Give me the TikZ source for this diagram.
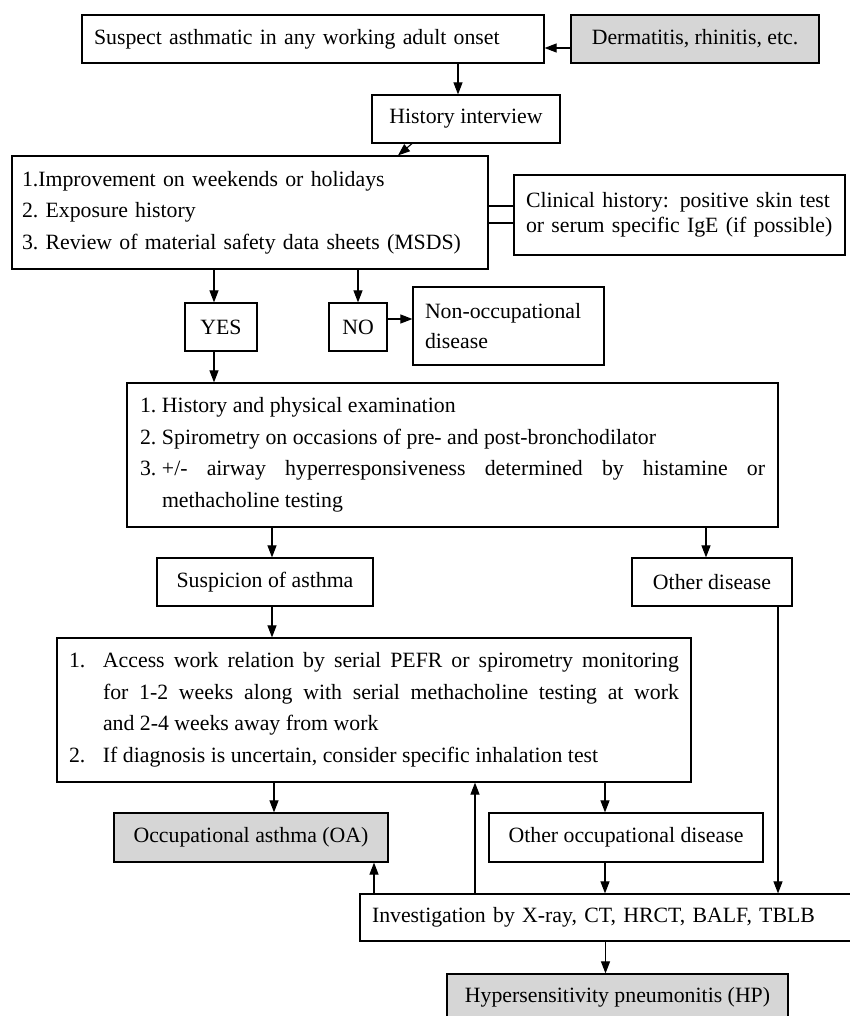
\documentclass[tikz,border=0pt]{standalone}
\usepackage{fontspec}
\setmainfont{Liberation Serif}
\usepackage{tikz}
\usetikzlibrary{arrows.meta}

\newcommand{\chartfont}{\fontsize{21.8}{31.5}\selectfont\frenchspacing\hyphenpenalty=10000}
\tikzset{
  box/.style={draw, line width=1.2pt, inner xsep=12pt, inner ysep=0pt, align=left, font=\chartfont},
  greybox/.style={box, fill=gray!32},
}

\begin{document}
\begin{tikzpicture}[x=1pt, y=-1pt, >={Triangle[length=12pt,width=9pt]}, line width=1.1pt]
    \clip (0,0) rectangle (850,1016);

    % Start and history
    \node[box, text width=438pt, minimum height=48pt] (suspect) at (313,39) {Suspect asthmatic in any working adult onset};
    \node[greybox, minimum width=248pt, minimum height=48pt, align=center] (dermat) at (695,39) {Dermatitis, rhinitis, etc.};
    \node[box, minimum width=188pt, minimum height=48pt, align=center] (history) at (466,119) {History interview};
    \node[box, inner xsep=10pt, text width=456pt, minimum height=113pt] (improve) at (250,212.5) {1.Improvement on weekends or holidays\\2. Exposure history\\3. Review of material safety data sheets (MSDS)};
    \node[box, text width=307pt, minimum height=80pt, font=\fontsize{21.8}{25}\selectfont] (clinical) at (679.5,215) {Clinical history: positive skin test\\or serum specific IgE (if possible)};

    % Yes / no
    \node[box, minimum width=72pt, minimum height=48pt, align=center] (yes) at (221,327) {YES};
    \node[box, inner xsep=4pt, minimum width=58pt, minimum height=48pt, align=center] (no) at (358,327) {NO};
    \node[box, text width=167pt, minimum height=78pt, font=\fontsize{21.8}{30}\selectfont] (nonocc) at (508.5,326) {Non-occupational\\disease};

    % Examination
    \node[box, inner xsep=13pt, text width=625pt, minimum height=144pt, align=justify] (exam) at (452.5,455) {%
      \makebox[22pt][l]{1.}History and physical examination\par
      \makebox[22pt][l]{2.}Spirometry on occasions of pre- and post-bronchodilator\par
      \hangindent=22pt\hangafter=1\makebox[22pt][l]{3.}+/- airway hyperresponsiveness determined by histamine or\linebreak methacholine testing\par};
    \node[box, minimum width=216pt, minimum height=48pt, align=center] (suspicion) at (265,582) {Suspicion of asthma};
    \node[box, minimum width=160pt, minimum height=48pt, align=center] (other) at (712,582) {Other disease};

    % Work relation
    \node[box, text width=610pt, minimum height=144pt, align=justify] (access) at (374,710) {%
      \hangindent=34pt\hangafter=1\makebox[34pt][l]{1.}Access work relation by serial PEFR or spirometry monitoring\linebreak for 1-2 weeks along with serial methacholine testing at work\linebreak and 2-4 weeks away from work\par
      \makebox[34pt][l]{2.}If diagnosis is uncertain, consider specific inhalation test\par};
    \node[greybox, minimum width=274pt, minimum height=49pt, align=center] (oa) at (251,837.5) {Occupational asthma (OA)};
    \node[box, minimum width=274pt, minimum height=49pt, align=center] (otherocc) at (626,837.5) {Other occupational disease};
    \node[box, text width=478pt, minimum height=47pt] (invest) at (611,917.5) {Investigation by X-ray, CT, HRCT, BALF, TBLB};
    \node[greybox, minimum width=341pt, minimum height=47pt, align=center] (hp) at (617.5,997.5) {Hypersensitivity pneumonitis (HP)};

    % Connectors
    \draw[->] ([yshift=-9pt]dermat.west) -- ([yshift=-9pt]suspect.east);
    \draw[->] ([xshift=-8pt]history.north |- suspect.south) -- ([xshift=-8pt]history.north);
    \draw[->] ([xshift=-54pt]history.south) -- ([xshift=148pt]improve.north);
    \draw ([yshift=6.5pt]improve.east) -- ([yshift=6.5pt]improve.east -| clinical.west);
    \draw ([yshift=-10.5pt]improve.east) -- ([yshift=-10.5pt]improve.east -| clinical.west);
    \draw[->] ([xshift=-7pt]yes.north |- improve.south) -- ([xshift=-7pt]yes.north);
    \draw[->] (no.north |- improve.south) -- (no.north);
    \draw[->] ([yshift=8pt]no.east) -- ([yshift=8pt]no.east -| nonocc.west);
    \draw[->] ([xshift=-7pt]yes.south) -- ([xshift=-7pt]yes.south |- exam.north);
    \draw[->] ([xshift=7pt]suspicion.north |- exam.south) -- ([xshift=7pt]suspicion.north);
    \draw[->] ([xshift=-6pt]other.north |- exam.south) -- ([xshift=-6pt]other.north);
    \draw[->] ([xshift=7pt]suspicion.south) -- ([xshift=7pt]suspicion.south |- access.north);
    \draw[->] ([xshift=66pt]other.south) -- ([xshift=66pt]other.south |- invest.north);
    \draw[->] ([xshift=23pt]oa.north |- access.south) -- ([xshift=23pt]oa.north);
    \draw[->] ([xshift=-21pt]otherocc.north |- access.south) -- ([xshift=-21pt]otherocc.north);
    \draw[->] ([xshift=-21pt]otherocc.south) -- ([xshift=-21pt]otherocc.south |- invest.north);
    \draw[->] ([xshift=123pt]oa.south |- invest.north) -- ([xshift=123pt]oa.south);
    \draw[->] ([xshift=101pt]access.south |- invest.north) -- ([xshift=101pt]access.south);
    \draw[->] ([xshift=-12pt]hp.north |- invest.south) -- ([xshift=-12pt]hp.north);

\end{tikzpicture}
\end{document}
